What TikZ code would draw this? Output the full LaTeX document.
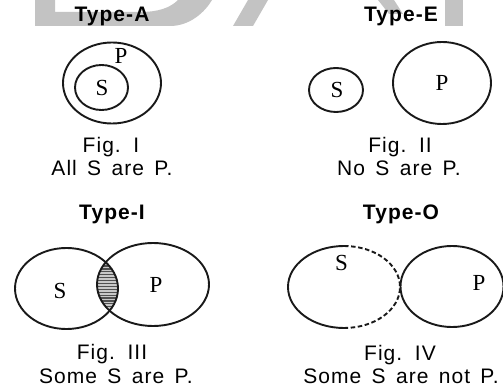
\documentclass[tikz,border=0pt]{standalone}
\usepackage{fontspec}
\setmainfont{Liberation Serif}
\newfontfamily\capfont[LetterSpace=5,WordSpace=1.5]{Liberation Sans}
\definecolor{markgray}{RGB}{195,195,195}
\definecolor{hatchgray}{RGB}{80,80,80}
\definecolor{hatchback}{RGB}{200,200,200}

\begin{document}
\begin{tikzpicture}[x=1pt,y=-1pt,
  outline/.style={line width=1.9pt, draw=black!90},
  heading/.style={font=\capfont\fontsize{21}{21}\selectfont\bfseries, anchor=base, inner sep=0pt},
  caption/.style={font=\capfont\fontsize{21}{21}\selectfont, anchor=base, inner sep=0pt},
  setlabel/.style={font=\fontsize{23}{23}\selectfont, inner sep=0pt},
  hatchline/.style={draw=hatchgray, line width=1.2pt},
  dashedline/.style={line width=1.9pt, draw=black!90, dash pattern=on 4.5pt off 2.6pt},
]
\useasboundingbox (0,0) rectangle (503,387);

% faint lettering in the background along the top edge
\fill[markgray] (35,0) -- (35,26) -- (170,26) .. controls (190,26) and (205,12) .. (212,0)
  -- (178,0) .. controls (170,8) and (158,12) .. (140,12) -- (55,12) -- (55,0) -- cycle;
\fill[markgray] (233,26) -- (253,26) -- (268,0) -- (248,0) -- cycle;
\fill[markgray] (378,0) -- (394,0) -- (403,14) -- (389,14) -- cycle;
\fill[markgray] (445,0) rectangle (463,26);

% ---------- Type-A ----------
\node[heading] (hA) at (112,22) {Type-A};
\draw[outline] (112,83) ellipse [x radius=49pt, y radius=40.5pt];
\draw[outline] (101.5,87.5) ellipse [x radius=26.5pt, y radius=22.5pt];
\node[setlabel] (pA) at (121,56) {P};
\node[setlabel] (sA) at (102,88) {S};
\node[caption] (fA) at (111,153) {Fig. I};
\node[caption] (tA) at (112,176) {All S are P.};

% ---------- Type-E ----------
\node[heading] (hE) at (401,22) {Type-E};
\draw[outline] (336,90) ellipse [x radius=27pt, y radius=22pt];
\draw[outline] (442,83) ellipse [x radius=49pt, y radius=41pt];
\node[setlabel] (sE) at (337,90) {S};
\node[setlabel] (pE) at (442,83) {P};
\node[caption] (fE) at (400,153) {Fig. II};
\node[caption] (tE) at (399,176) {No S are P.};

% ---------- Type-I ----------
\node[heading] (hI) at (112,220) {Type-I};
\begin{scope}
  \clip (66.5,288.5) ellipse [x radius=51.5pt, y radius=40.5pt];
  \clip (153,284.5) ellipse [x radius=56pt, y radius=41.5pt];
  \fill[hatchback] (85,240) rectangle (130,335);
  \foreach \yy in {240,242.9,...,335} \draw[hatchline] (85,\yy) -- (130,\yy);
\end{scope}
\draw[outline] (66.5,288.5) ellipse [x radius=51.5pt, y radius=40.5pt];
\draw[outline] (153,284.5) ellipse [x radius=56pt, y radius=41.5pt];
\node[setlabel] (sI) at (60,291) {S};
\node[setlabel] (pI) at (156,285) {P};
\node[caption] (fI) at (112,359) {Fig. III};
\node[caption] (tI) at (116,383) {Some S are P.};

% ---------- Type-O ----------
\node[heading] (hO) at (401,220) {Type-O};
\draw[outline] (344,246) arc [start angle=90, end angle=270, x radius=56pt, y radius=41pt];
\draw[dashedline] (344,246) arc [start angle=90, end angle=-90, x radius=56pt, y radius=41pt];
\draw[outline] (452,286.5) ellipse [x radius=51.5pt, y radius=40.5pt];
\node[setlabel] (sO) at (341.5,263) {S};
\node[setlabel] (pO) at (479,283) {P};
\node[caption] (fO) at (400,360) {Fig. IV};
\node[caption] (tO) at (401,383) {Some S are not P.};
\end{tikzpicture}
\end{document}
